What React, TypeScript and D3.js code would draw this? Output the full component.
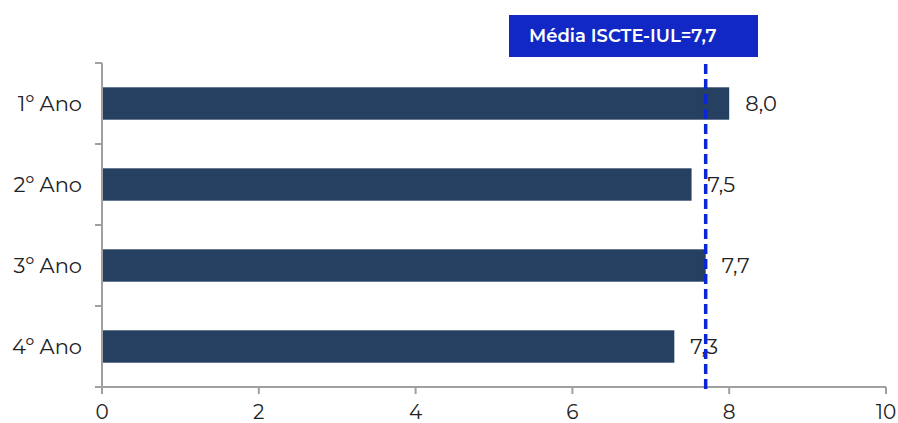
import React from "react";
import * as d3 from "d3";

const categories = ["1º Ano", "2º Ano", "3º Ano", "4º Ano"];
const values = [8.0, 7.52, 7.7, 7.3];
const valueLabels = ["8,0", "7,5", "7,7", "7,3"];
const xTicks = [0, 2, 4, 6, 8, 10];
const meanValue = 7.7;
const meanLabel = "Média ISCTE-IUL=7,7";

export default function App() {
  const W = 898, H = 423;
  const x = d3.scaleLinear().domain([0, 10]).range([102, 886]);
  const y = d3.scaleBand().domain(categories).range([63, 387]).paddingInner(0.6).paddingOuter(0.3);
  const band = d3.scaleBand().domain(categories).range([63, 387]);
  const font = "Montserrat, 'Open Sans', Lato, sans-serif";
  const axisColor = "#a0a0a0";
  return (
    <svg width={W} height={H} style={{ position: "absolute", left: 0, top: 0 }} fontFamily={font}>
      <rect width={W} height={H} fill="#fff" />
      {categories.map((c, i) => (
        <g key={c}>
          <rect x={x(0)} y={y(c)} width={x(values[i]) - x(0)} height={y.bandwidth()} fill="#264061" />
          <text x={x(values[i]) + 16} y={y(c)! + y.bandwidth() / 2} dy="0.35em" fontSize={21} fill="#222">{valueLabels[i]}</text>
          <text x={82} y={band(c)! + band.bandwidth() / 2} dy="0.35em" fontSize={21} fill="#222" textAnchor="end">{c}</text>
        </g>
      ))}
      {/* y axis */}
      <line x1={x(0)} x2={x(0)} y1={63} y2={387} stroke={axisColor} strokeWidth={2} />
      {[...categories.map((c) => band(c)!), 387].map((t, i) => (
        <line key={i} x1={x(0) - 7} x2={x(0)} y1={t} y2={t} stroke={axisColor} strokeWidth={2} />
      ))}
      {/* x axis */}
      <line x1={x(0) - 7} x2={x(10)} y1={387} y2={387} stroke={axisColor} strokeWidth={2} />
      {xTicks.map((t) => (
        <g key={t}>
          <line x1={x(t)} x2={x(t)} y1={387} y2={394} stroke={axisColor} strokeWidth={2} />
          <text x={x(t)} y={412} dy="0.35em" textAnchor="middle" fontSize={20} fill="#222">{t}</text>
        </g>
      ))}
      {/* mean line */}
      <line x1={x(meanValue)} x2={x(meanValue)} y1={64} y2={390} stroke="#0a26d6" strokeWidth={3.5} strokeDasharray="10,5" />
      <rect x={509} y={15} width={249} height={42} fill="#1228c4" />
      <text x={529} y={36} dy="0.35em" fontSize={18} fontWeight={600} fill="#fff">{meanLabel}</text>
    </svg>
  );
}
